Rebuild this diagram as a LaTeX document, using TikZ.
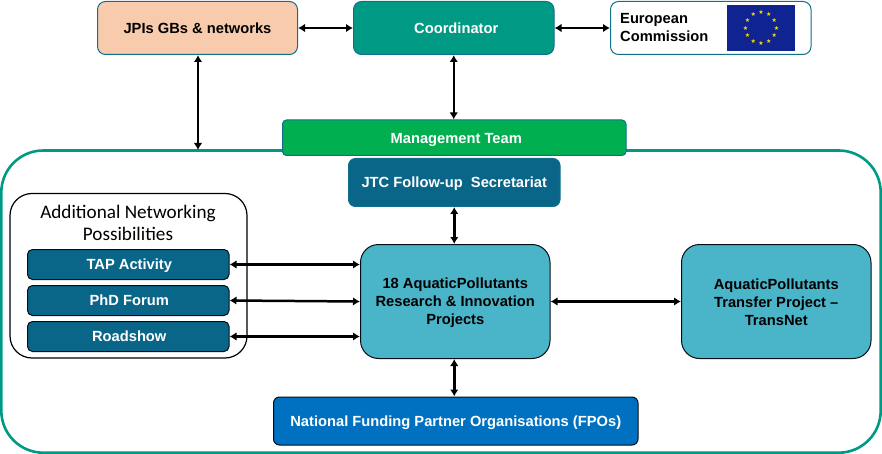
\documentclass[tikz,border=0pt]{standalone}
\usepackage{fontspec}
\setmainfont{Liberation Sans}
\newfontfamily\carlito{Carlito}
\newfontfamily\djv{DejaVu Sans}
\usetikzlibrary{arrows.meta}
\definecolor{cpeach}{HTML}{F8CBAD}
\definecolor{cteal}{HTML}{009A84}
\definecolor{cgreen}{HTML}{00B050}
\definecolor{cdark}{HTML}{0A6688}
\definecolor{clight}{HTML}{4AB5C8}
\definecolor{cblue}{HTML}{0070C0}
\definecolor{ceu}{HTML}{0F2490}
\definecolor{cstar}{HTML}{FFDD00}
\definecolor{cedge}{HTML}{0F6F8C}
\tikzset{
 x=1pt,y=-1pt,
 box/.style={draw=cedge,line width=1pt,font=\bfseries\fontsize{14.7}{17.7}\selectfont,align=center,inner sep=0pt},
 one/.style={text height=10.6pt,text depth=0pt},
 arr/.style={line width=2.5pt,{Latex[length=7pt,width=8.5pt]}-{Latex[length=7pt,width=8.5pt]},black},
}
\newcommand{\bx}[7]{\node[box,fill=#2,text=#7,minimum width=#5pt,minimum height=#6pt,anchor=north west,rounded corners=#1] at (#3,#4)}
\begin{document}
\begin{tikzpicture}
\useasboundingbox (0,0) rectangle (882,454);
\draw[draw=cteal,line width=2.6pt,rounded corners=42pt] (1.3,150.5) rectangle (880.7,452.7);
\bx{8pt}{cpeach}{97}{1}{200}{53}{black} (jpi) [one] {JPIs GBs \& networks};
\bx{8pt}{cteal}{353}{1}{200.5}{53}{white} (coord) [one] {\hspace{5pt}Coordinator};
\bx{8pt}{white}{610}{1}{200.5}{53}{black} (ec) {};
\node[anchor=west,font=\bfseries\fontsize{14.7}{17.5}\selectfont,align=left,inner sep=0pt] (ectext) at (620,27.5) {European\\Commission};
\fill[ceu] (727,5) rectangle (795,51);
\foreach \a in {0,30,...,330}
  \node[text=cstar,font=\djv\fontsize{6}{6}\selectfont,inner sep=0pt] (s\a) at ({761+15.5*cos(\a)},{28+15.5*sin(\a)}) {★};
\bx{4pt}{cgreen}{282}{119.5}{343.5}{35.5}{white} (mgmt) [one] {\hspace{4pt}Management Team};
\bx{7pt}{cdark}{348}{158}{211.5}{48}{white} (jtc) [one] {JTC Follow-up\ \ Secretariat};
\draw[black,line width=1.2pt,rounded corners=22pt,fill=white] (10,193.5) rectangle (247,358);
\node[font=\carlito\fontsize{19.2}{22.5}\selectfont,align=center,inner sep=0pt] (addl) at (128,223) {Additional Networking\\Possibilities};
\tikzset{box/.append style={draw=black!85!cdark}}
\bx{5pt}{cdark}{27}{249}{201.5}{30}{white} (tap) [one] {\hspace{2pt}TAP Activity};
\bx{5pt}{cdark}{27}{285}{201.5}{30}{white} (phd) [one] {\hspace{2pt}PhD Forum};
\bx{5pt}{cdark}{27}{321}{201.5}{30}{white} (road) [one] {\hspace{2pt}Roadshow};
\bx{18pt}{clight}{360}{244}{189.5}{114}{black} (proj) {\rule{0pt}{13pt}18 AquaticPollutants\\Research \& Innovation\\Projects};
\bx{18pt}{clight}{681}{244}{189.5}{114}{black} (trans) {\rule{0pt}{12pt}AquaticPollutants\\Transfer Project –\\TransNet};
\bx{6pt}{cblue}{273}{396.5}{364.5}{48}{white} (fpo) [one] {National Funding Partner Organisations (FPOs)};
\draw[arr] (jpi) -- (coord);
\draw[arr] (coord) -- (ec);
\coordinate (jb) at (198,150);
\draw[arr] (jpi.south -| jb) -- (jb);
\draw[arr] (coord.south) -- (mgmt.north -| coord.south);
\draw[arr] (jtc.south) -- (proj.north -| jtc.south);
\draw[arr] (proj.south -| jtc.south) -- (fpo.north -| jtc.south);
\draw[arr] (tap.east) -- (proj.west |- tap.east);
\draw[arr] (phd.east) -- ([yshift=-1pt]proj.west |- phd.east);
\draw[arr] (road.east) -- (proj.west |- road.east);
\draw[arr] (proj) -- (trans);
\end{tikzpicture}
\end{document}
